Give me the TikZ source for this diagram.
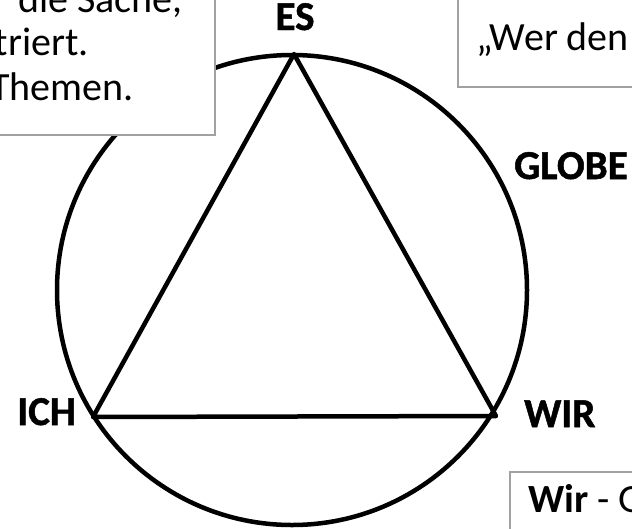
\documentclass[tikz,border=0pt]{standalone}
\usepackage{fontspec}
\setmainfont{Carlito}
\newfontfamily\labfont{Carlito}[BoldFeatures={FakeBold=1.2}]
\begin{document}
\begin{tikzpicture}[x=1pt,y=-1pt,
  lab/.style={font=\labfont\fontsize{41}{48}\selectfont\bfseries, inner sep=0pt},
  boxtext/.style={font=\fontsize{40}{48}\selectfont, inner sep=0pt},
  infobox/.style={draw=black!37, line width=2pt, fill=white},
  thick line/.style={line width=4.5pt, line join=round}]
\useasboundingbox (0,0) rectangle (632,528);
% circle and triangle
\node[circle, draw, line width=4.5pt, minimum size=470pt, inner sep=0pt] (globe) at (292,290) {};
\coordinate (es) at (294,54);
\coordinate (ich) at (93,417);
\coordinate (wir) at (496,416);
\draw[thick line] (es) -- (wir) -- (ich) -- cycle;
% labels
\node[lab, anchor=base] (esl) at (295,30) {ES};
\node[lab, anchor=base west] (globel) at (514,179) {GLOBE};
\node[lab, anchor=base east] (ichl) at (76,425) {ICH};
\node[lab, anchor=base west] (wirl) at (524,427) {WIR};
% top-left box
\node[infobox, minimum width=240pt, minimum height=160pt, anchor=south east] (boxa) at (216,136) {};
\node[boxtext, anchor=base east] (ta1) at (183,12) {die Sache,};
\node[boxtext, anchor=base east] (ta2) at (89,55) {triert.};
\node[boxtext, anchor=base east] (ta3) at (134,100) {Themen.};
% top-right box
\node[infobox, minimum width=200pt, minimum height=110pt, anchor=south west] (boxb) at (457,88) {};
\node[boxtext, anchor=base west] (tb1) at (476,50) {„Wer den};
% bottom-right box
\node[infobox, minimum width=140pt, minimum height=90pt, anchor=north west] (boxc) at (509,471) {};
\node[boxtext, anchor=base west] (tc1) at (528,512) {\textbf{Wir} - G};
\end{tikzpicture}
\end{document}
